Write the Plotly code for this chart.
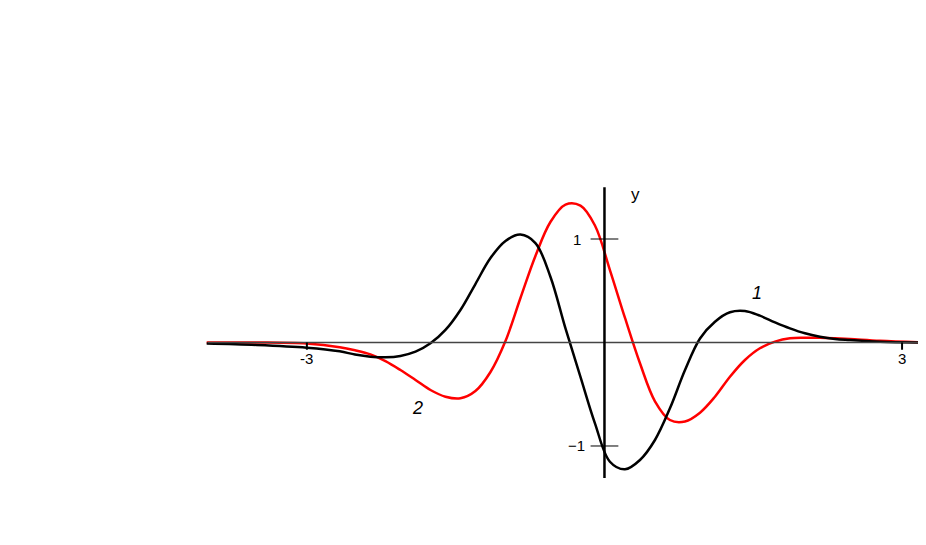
import plotly.graph_objects as go

# curve 1 (black)
x1 = [-4.010, -3.506, -3.002, -2.669, -2.515, -2.359, -2.208, -2.057, -1.905, -1.754, -1.603,
      -1.452, -1.301, -1.149, -0.998, -0.847, -0.696, -0.545, -0.393, -0.242, -0.096, 0.055,
      0.207, 0.358, 0.509, 0.660, 0.812, 0.963, 1.114, 1.265, 1.416, 1.567, 1.719, 1.870,
      2.021, 2.172, 2.324, 2.475, 2.777, 3.241]
y1 = [-0.010, -0.024, -0.050, -0.085, -0.116, -0.137, -0.143, -0.130, -0.089, -0.008, 0.121,
      0.314, 0.565, 0.816, 0.981, 1.043, 0.961, 0.635, 0.136, -0.332, -0.781, -1.152,
      -1.225, -1.135, -0.942, -0.636, -0.266, 0.039, 0.201, 0.292, 0.304, 0.259, 0.195, 0.137,
      0.089, 0.056, 0.034, 0.024, 0.008, 0.0]

# curve 2 (red)
x2 = [-4.010, -3.506, -3.002, -2.669, -2.515, -2.359, -2.208, -2.057, -1.905, -1.754, -1.603,
      -1.452, -1.301, -1.149, -0.998, -0.847, -0.696, -0.545, -0.393, -0.242, -0.096, 0.055,
      0.207, 0.358, 0.509, 0.660, 0.812, 0.963, 1.114, 1.265, 1.416, 1.567, 1.719, 1.870,
      2.021, 2.172, 2.324, 2.475, 2.777, 3.241]
y2 = [0.0, 0.0, -0.010, -0.045, -0.075, -0.115, -0.180, -0.266, -0.362, -0.459, -0.524,
      -0.539, -0.469, -0.285, 0.014, 0.430, 0.836, 1.164, 1.332, 1.322, 1.130, 0.700,
      0.237, -0.201, -0.568, -0.749, -0.763, -0.678, -0.524, -0.331, -0.169, -0.056, 0.008, 0.041,
      0.046, 0.046, 0.041, 0.034, 0.017, 0.0]

x_ticks = [-3, 3]
x_tick_text = ["-3", "3"]
y_ticks = [1, -1]
y_tick_text = ["1", "\u22121"]

fig = go.Figure()
fig.add_trace(go.Scatter(x=x2, y=y2, mode="lines", line=dict(color="#ff0000", width=2.5, shape="spline", smoothing=1.0)))
fig.add_trace(go.Scatter(x=x1, y=y1, mode="lines", line=dict(color="black", width=2.5, shape="spline", smoothing=1.0)))

shapes = []
# axes
shapes.append(dict(type="line", x0=-4.0, x1=3.24, y0=0, y1=0, line=dict(color="#444444", width=1.5)))
shapes.append(dict(type="line", x0=0, x1=0, y0=-1.31, y1=1.50, line=dict(color="black", width=2.5)))
for t in x_ticks:
    shapes.append(dict(type="line", x0=t, x1=t, y0=0, y1=-0.07, line=dict(color="black", width=2)))
for t in y_ticks:
    shapes.append(dict(type="line", x0=-0.14, x1=0.14, y0=t, y1=t, line=dict(color="black", width=1)))

font = dict(family="Liberation Sans, Arial, sans-serif", size=15, color="black")
ann = []
for t, s in zip(x_ticks, x_tick_text):
    ann.append(dict(x=t, y=-0.15, text=s, showarrow=False, font=font))
for t, s in zip(y_ticks, y_tick_text):
    ann.append(dict(x=-0.28, y=t, text=s, showarrow=False, font=font))
ann.append(dict(x=0.31, y=1.43, text="y", showarrow=False, font=dict(family="Liberation Sans, Arial", size=17, color="black")))
ann.append(dict(x=1.54, y=0.48, text="<i>1</i>", showarrow=False, font=dict(family="Liberation Sans, Arial", size=18, color="black")))
ann.append(dict(x=-1.88, y=-0.63, text="<i>2</i>", showarrow=False, font=dict(family="Liberation Sans, Arial", size=18, color="black")))

fig.update_layout(
    width=926, height=545,
    margin=dict(l=0, r=0, t=0, b=0),
    paper_bgcolor="white", plot_bgcolor="white",
    showlegend=False,
    shapes=shapes, annotations=ann,
    xaxis=dict(range=[-6.013, 3.322], visible=False),
    yaxis=dict(range=[-2.034, 3.232], visible=False),
)
fig.write_html("out.html")
